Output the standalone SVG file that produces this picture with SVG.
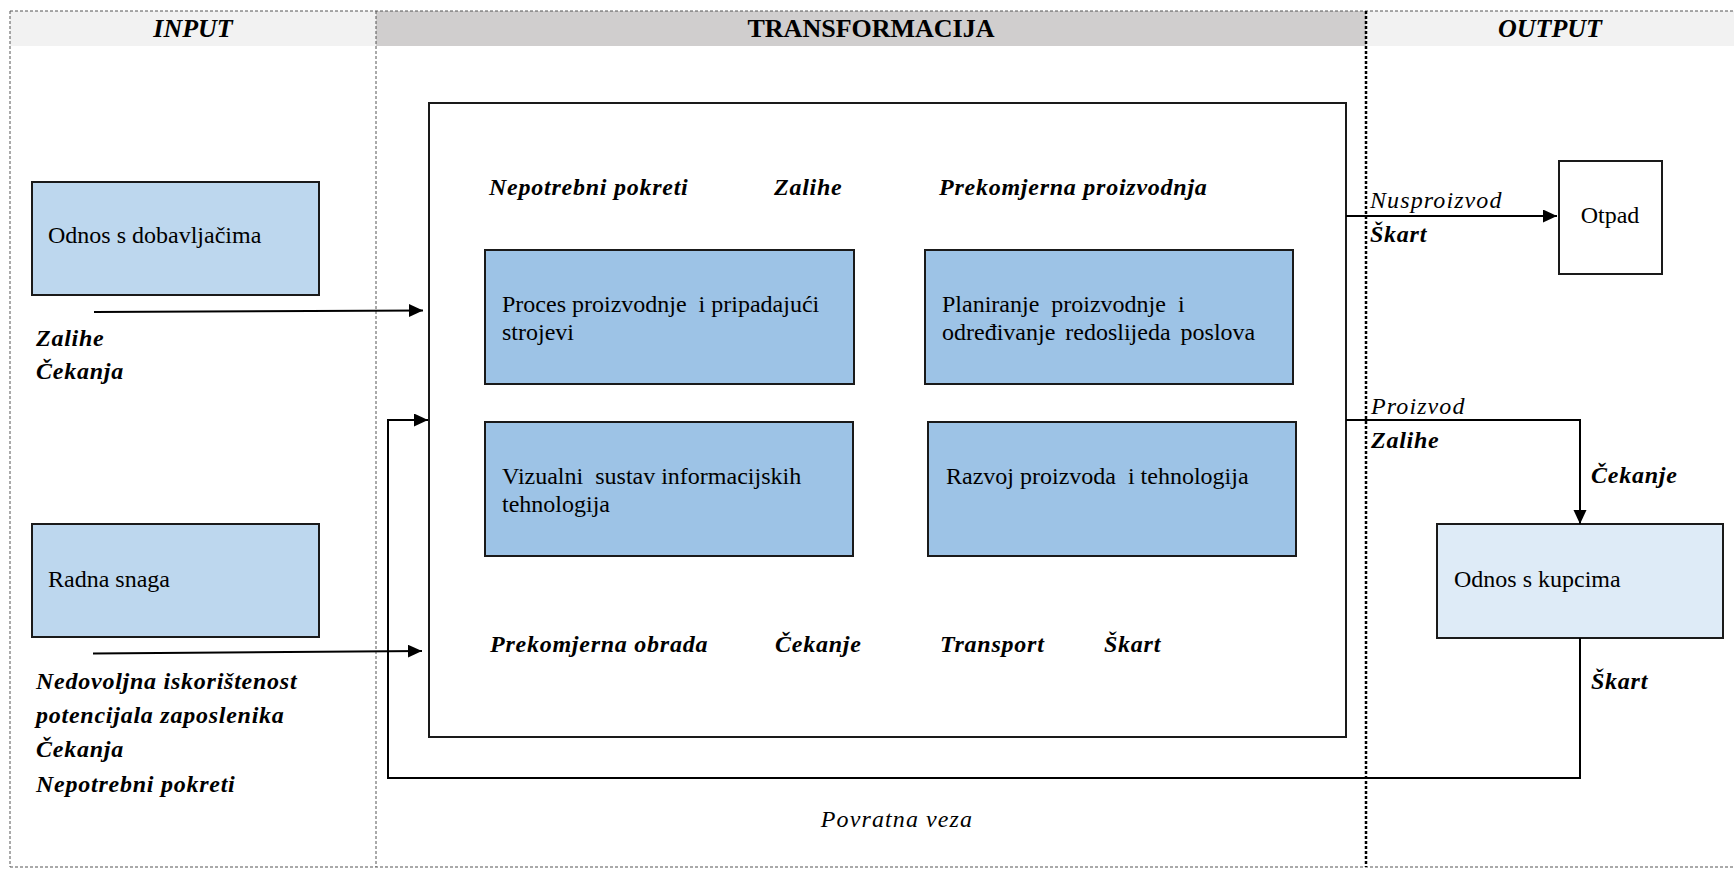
<svg xmlns="http://www.w3.org/2000/svg" width="1734" height="869" viewBox="0 0 1734 869" font-family="'Liberation Serif','Times New Roman',serif">
<defs>
<marker id="arr" markerUnits="userSpaceOnUse" markerWidth="16" markerHeight="14" refX="14" refY="6.5" orient="auto">
<path d="M0,0 L14,6.5 L0,13 Z" fill="#000"/>
</marker>
<style>
text{font-family:"Liberation Serif","Times New Roman",serif;fill:#000;}
.hd{font-size:26px;font-weight:bold;text-anchor:middle;}
.it{font-style:italic;}
.t{font-size:24px;}
.bi{font-size:24px;font-weight:bold;font-style:italic;letter-spacing:0.75px;}
.i{font-size:24px;font-style:italic;letter-spacing:1.1px;}
.box{stroke:#1a1a1a;stroke-width:2;}
.c{fill:none;stroke:#000;stroke-width:2;}
.frame{fill:none;stroke:#555;stroke-width:1;stroke-dasharray:3 2;}
</style>
</defs>
<rect width="1734" height="869" fill="#fff"/>
<g id="headers">
<rect x="10" y="11" width="366" height="35" fill="#F2F2F2"/>
<rect x="376" y="11" width="990" height="35" fill="#D0CECE"/>
<rect x="1366" y="11" width="368" height="35" fill="#F2F2F2"/>
<text class="hd it" x="193" y="37">INPUT</text>
<text class="hd" x="871" y="37">TRANSFORMACIJA</text>
<text class="hd it" x="1550" y="37">OUTPUT</text>
</g>
<g id="frame">
<path class="frame" d="M10,11 H1734 M10,11 V867 M10,867 H1734 M376,11 V867"/>
<path d="M1366,11 V867" fill="none" stroke="#000" stroke-width="2.5" stroke-dasharray="3 2"/>
</g>
<g id="transformacija">
<rect x="429" y="103" width="917" height="634" fill="#fff" class="box"/>
<text class="bi" x="489" y="195">Nepotrebni pokreti</text>
<text class="bi" x="774" y="195">Zalihe</text>
<text class="bi" x="939" y="195">Prekomjerna proizvodnja</text>
<text class="bi" x="490" y="652">Prekomjerna obrada</text>
<text class="bi" x="775" y="652">Čekanje</text>
<text class="bi" x="940" y="652">Transport</text>
<text class="bi" x="1104" y="652">Škart</text>
</g>
<g id="proces">
<rect x="485" y="250" width="369" height="134" fill="#9DC3E6" class="box"/>
<text class="t" x="502" y="312">Proces proizvodnje &#160;i pripadajući</text>
<text class="t" x="502" y="340">strojevi</text>
</g>
<g id="planiranje">
<rect x="925" y="250" width="368" height="134" fill="#9DC3E6" class="box"/>
<text class="t" x="942" y="312" word-spacing="6">Planiranje proizvodnje i</text>
<text class="t" x="942" y="340" word-spacing="4">određivanje redoslijeda poslova</text>
</g>
<g id="vizualni">
<rect x="485" y="422" width="368" height="134" fill="#9DC3E6" class="box"/>
<text class="t" x="502" y="484">Vizualni &#160;sustav informacijskih</text>
<text class="t" x="502" y="512">tehnologija</text>
</g>
<g id="razvoj">
<rect x="928" y="422" width="368" height="134" fill="#9DC3E6" class="box"/>
<text class="t" x="946" y="484">Razvoj proizvoda &#160;i tehnologija</text>
</g>
<g id="dobavljaci">
<rect x="32" y="182" width="287" height="113" fill="#BDD7EE" class="box"/>
<text class="t" x="48" y="243">Odnos s dobavljačima</text>
</g>
<g id="radna-snaga">
<rect x="32" y="524" width="287" height="113" fill="#BDD7EE" class="box"/>
<text class="t" x="48" y="587">Radna snaga</text>
</g>
<g id="otpad">
<rect x="1559" y="161" width="103" height="113" fill="#fff" class="box"/>
<text class="t" x="1610" y="223" text-anchor="middle">Otpad</text>
</g>
<g id="kupci">
<rect x="1437" y="524" width="286" height="114" fill="#DEEBF7" class="box"/>
<text class="t" x="1454" y="587">Odnos s kupcima</text>
</g>
<g id="connectors">
<path class="c" d="M94,312 L423,310.5" marker-end="url(#arr)"/>
<path class="c" d="M93,653.5 L422,651" marker-end="url(#arr)"/>
<path class="c" d="M1346,216 H1557" marker-end="url(#arr)"/>
<path class="c" d="M1346,420 H1580 V524" marker-end="url(#arr)"/>
<path class="c" d="M1580,638 V778 H388 V420 H428" marker-end="url(#arr)"/>
</g>
<g id="labels">
<text class="bi" x="36" y="346">Zalihe</text>
<text class="bi" x="36" y="379">Čekanja</text>
<text class="bi" x="36" y="689">Nedovoljna iskorištenost</text>
<text class="bi" x="36" y="723">potencijala zaposlenika</text>
<text class="bi" x="36" y="757">Čekanja</text>
<text class="bi" x="36" y="792">Nepotrebni pokreti</text>
<text class="i" x="1370" y="208">Nusproizvod</text>
<text class="bi" x="1370" y="242">Škart</text>
<text class="i" x="1371" y="414">Proizvod</text>
<text class="bi" x="1371" y="448">Zalihe</text>
<text class="bi" x="1591" y="483">Čekanje</text>
<text class="bi" x="1591" y="689">Škart</text>
<text class="i" x="897" y="827" text-anchor="middle">Povratna veza</text>
</g>
</svg>
